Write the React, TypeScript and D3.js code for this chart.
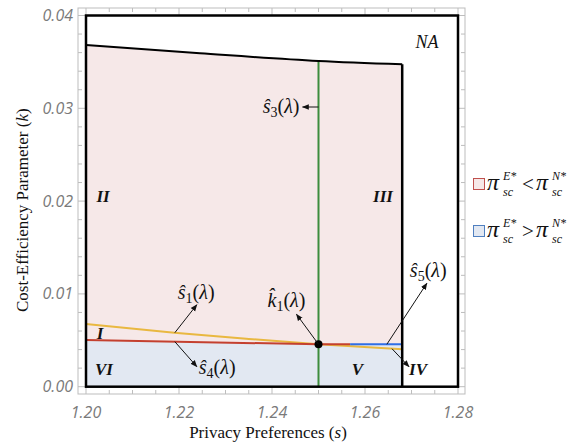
import React from 'react';
import * as d3 from 'd3';

// ---------- data ----------
const sTickValues = [1.2, 1.22, 1.24, 1.26, 1.28];
const sTickLabels = ['1.20', '1.22', '1.24', '1.26', '1.28'];
const kTickValues = [0, 0.01, 0.02, 0.03, 0.04];
const kTickLabels = ['0.00', '0.01', '0.02', '0.03', '0.04'];

// upper boundary of feasible region
const upperBoundS = [1.2, 1.2245, 1.25, 1.268];
const upperBoundK = [0.03682, 0.03593, 0.0351, 0.03474];

// s1 (yellow)
const s1S = [1.2, 1.219, 1.235, 1.25, 1.268];
const s1K = [0.00676, 0.00582, 0.00515, 0.00457, 0.00403];

// s4 (red)
const s4S = [1.2, 1.25, 1.2568];
const s4K = [0.00503, 0.00457, 0.00457];

// s5 (blue)
const s5S = [1.2568, 1.268];
const s5K = [0.00457, 0.00457];

// s3 (green vertical)
const s3Value = 1.25;
// k1 point
const k1S = 1.25;
const k1K = 0.00457;

const regionRightS = 1.268;
const naBoxS = [1.2, 1.28];
const naBoxK = [0, 0.04];

const regionLabels = ['II', 'III', 'I', 'VI', 'V', 'IV'];
const regionLabelS = [1.20366, 1.26387, 1.20301, 1.20387, 1.25839, 1.2714];
const regionLabelK = [0.0199, 0.0199, 0.00514, 0.00127, 0.00127, 0.00127];

const legendOps = ['<', '>'];

// ---------- layout ----------
const W = 569;
const H = 446;
const frame = { left: 78, right: 465, top: 8, bottom: 394 };

const x = d3.scaleLinear().domain([1.2, 1.28]).range([86, 458]);
const y = d3.scaleLinear().domain([0, 0.04]).range([386.7, 15.5]);

const PINK = '#f6e8e8';
const BLUE_FILL = '#e2e8f2';
const YELLOW = '#e9b840';
const RED = '#c4402f';
const BLUE = '#2f6ee6';
const GREEN = '#3d8c3d';
const GRAY = '#bdbdbd';
const TICK_TEXT = '#7a7a7a';
const SERIF = '"Liberation Serif", "Times New Roman", serif';
const SANS = '"Open Sans", "Liberation Sans", sans-serif';

const zip = (a: number[], b: number[]) => a.map((v, i) => [v, b[i]] as [number, number]);

const lineGen = d3
  .line<[number, number]>()
  .x((d) => x(d[0]))
  .y((d) => y(d[1]));
const curveGen = d3
  .line<[number, number]>()
  .x((d) => x(d[0]))
  .y((d) => y(d[1]))
  .curve(d3.curveMonotoneX);

function interp(S: number[], K: number[], s: number) {
  return d3.scaleLinear().domain(S).range(K)(s);
}

function Label({ x0, y0, main, sub, anchor = 'start' }: any) {
  return (
    <text x={x0} y={y0} fontFamily={SERIF} fontSize={20} textAnchor={anchor} fill="#111">
      <tspan fontStyle="italic">{main}</tspan>
      <tspan fontSize={14} dy={4}>{sub}</tspan>
      <tspan dy={-4}>(</tspan>
      <tspan fontStyle="italic">λ</tspan>
      <tspan>)</tspan>
    </text>
  );
}

function Arrow({ x1, y1, x2, y2 }: any) {
  return <line x1={x1} y1={y1} x2={x2} y2={y2} stroke="#111" strokeWidth={1} markerEnd="url(#ah)" />;
}

export default function App() {
  const upper = zip(upperBoundS, upperBoundK);
  const boundary = [...zip(s4S, s4K), [regionRightS, s5K[s5K.length - 1]] as [number, number]];

  const pinkPath =
    lineGen(boundary)! +
    'L' +
    curveGen(upper.slice().reverse() as any)!.slice(1) +
    'Z';
  const bluePts: [number, number][] = [[1.2, 0], [regionRightS, 0], ...boundary.slice().reverse()];

  const minorS = d3.range(0, 17).map((i) => 1.2 + i * 0.005);
  const minorK = d3.range(0, 21).map((i) => i * 0.002);

  // annotation anchors
  const s3a = { x: x(s3Value), y: y(0.03014) };
  const s1a = { x: x(1.2191), y: y(interp(s1S, s1K, 1.2191)) };
  const s4a = { x: x(1.2191), y: y(interp(s4S.slice(0, 2), s4K.slice(0, 2), 1.2191)) };
  const k1a = { x: x(k1S), y: y(k1K) };
  const s5a = { x: x(1.2647), y: y(s5K[0]) };
  const iva = { x: x(1.2658), y: y(interp(s1S, s1K, 1.2658)) };

  return (
    <div style={{ position: 'absolute', left: 0, top: 0 }}>
      <svg width={W} height={H} style={{ display: 'block', background: '#fff' }}>
        <defs>
          <marker id="ah" viewBox="0 0 10 10" refX="9" refY="5" markerWidth="7" markerHeight="7" orient="auto" markerUnits="userSpaceOnUse">
            <path d="M0,1 L10,5 L0,9 Z" fill="#111" />
          </marker>
        </defs>

        {/* fills */}
        <path d={pinkPath} fill={PINK} />
        <path d={lineGen(bluePts)! + 'Z'} fill={BLUE_FILL} />

        {/* frame */}
        <rect x={frame.left} y={frame.top} width={frame.right - frame.left} height={frame.bottom - frame.top} fill="none" stroke={GRAY} strokeWidth={1} />
        {minorS.map((s, i) => {
          const major = i % 4 === 0;
          const len = major ? 7 : 4;
          return (
            <g key={'sx' + i}>
              <line x1={x(s)} x2={x(s)} y1={frame.bottom} y2={frame.bottom - len} stroke={GRAY} />
              <line x1={x(s)} x2={x(s)} y1={frame.top} y2={frame.top + len} stroke={GRAY} />
            </g>
          );
        })}
        {minorK.map((k, i) => {
          const major = i % 5 === 0;
          const len = major ? 7 : 4;
          return (
            <g key={'ky' + i}>
              <line y1={y(k)} y2={y(k)} x1={frame.left} x2={frame.left + len} stroke={GRAY} />
              <line y1={y(k)} y2={y(k)} x1={frame.right} x2={frame.right - len} stroke={GRAY} />
            </g>
          );
        })}
        {sTickValues.map((s, i) => (
          <text key={'st' + i} x={x(s)} y={418} textAnchor="middle" fontFamily={SANS} fontStyle="italic" fontSize={16} fill={TICK_TEXT}>
            {sTickLabels[i]}
          </text>
        ))}
        {kTickValues.map((k, i) => (
          <text key={'kt' + i} x={73} y={y(k) + 5.5} textAnchor="end" fontFamily={SANS} fontStyle="italic" fontSize={16} fill={TICK_TEXT}>
            {kTickLabels[i]}
          </text>
        ))}

        {/* curves */}
        <path d={curveGen(zip(s1S, s1K))!} fill="none" stroke={YELLOW} strokeWidth={2} />
        <path d={lineGen(zip(s4S, s4K))!} fill="none" stroke={RED} strokeWidth={2} />
        <path d={lineGen(zip(s5S, s5K))!} fill="none" stroke={BLUE} strokeWidth={2} />
        <line x1={x(s3Value)} x2={x(s3Value)} y1={y(0)} y2={y(interp(upperBoundS, upperBoundK, s3Value))} stroke={GREEN} strokeWidth={2} />

        {/* black boundaries */}
        <rect x={x(naBoxS[0])} y={y(naBoxK[1])} width={x(naBoxS[1]) - x(naBoxS[0])} height={y(naBoxK[0]) - y(naBoxK[1])} fill="none" stroke="#000" strokeWidth={2.5} />
        <path d={curveGen(upper)!} fill="none" stroke="#000" strokeWidth={2} />
        <line x1={x(regionRightS)} x2={x(regionRightS)} y1={y(0)} y2={y(upperBoundK[upperBoundK.length - 1])} stroke="#000" strokeWidth={2.5} />

        <circle cx={x(k1S)} cy={y(k1K)} r={4} fill="#000" />

        {/* annotations */}
        <Arrow x1={s3a.x} y1={s3a.y} x2={s3a.x - 16} y2={s3a.y} />
        <Label x0={s3a.x - 19} y0={s3a.y + 6} main="ŝ" sub="3" anchor="end" />

        <Arrow x1={s1a.x} y1={s1a.y} x2={s1a.x + 22} y2={s1a.y - 28} />
        <Label x0={s1a.x + 3} y0={s1a.y - 34} main="ŝ" sub="1" />

        <Arrow x1={s4a.x} y1={s4a.y} x2={s4a.x + 22} y2={s4a.y + 25} />
        <Label x0={s4a.x + 24} y0={s4a.y + 32} main="ŝ" sub="4" />

        <Arrow x1={k1a.x} y1={k1a.y} x2={k1a.x - 22} y2={k1a.y - 30} />
        <Label x0={k1a.x - 51} y0={k1a.y - 37} main={'k\u0302'} sub="1" />

        <Arrow x1={s5a.x} y1={s5a.y} x2={s5a.x + 40} y2={s5a.y - 61} />
        <Label x0={s5a.x + 23} y0={s5a.y - 67} main="ŝ" sub="5" />

        <Arrow x1={iva.x} y1={iva.y} x2={iva.x + 17} y2={iva.y + 18} />

        {regionLabels.map((t, i) => (
          <text key={'rl' + i} x={x(regionLabelS[i])} y={y(regionLabelK[i])} textAnchor="middle" fontFamily={SERIF} fontStyle="italic" fontWeight="bold" fontSize={17} fill="#111">
            {t}
          </text>
        ))}
        <text x={x(1.27333)} y={y(0.0365)} textAnchor="middle" fontFamily={SERIF} fontStyle="italic" fontSize={18} fill="#111">
          NA
        </text>

        {/* axis titles */}
        <text x={268} y={438} textAnchor="middle" fontFamily={SERIF} fontSize={17} fill="#111">
          Privacy Preferences (<tspan fontStyle="italic">s</tspan>)
        </text>
        <text transform="translate(28,312) rotate(-90)" textAnchor="start" fontFamily={SERIF} fontSize={17} fill="#111">
          Cost-Efficiency Parameter (<tspan fontStyle="italic">k</tspan>)
        </text>

        {/* legend */}
        {legendOps.map((op, j) => {
          const oy = j * 47;
          return (
            <g key={'lg' + j} fontFamily={SERIF} fill="#111">
              <rect x={473.5} y={178.5 + oy} width={11} height={11} fill={j === 0 ? PINK : BLUE_FILL} stroke={j === 0 ? '#c0504d' : '#4f7fc0'} strokeWidth={1} />
              <text x={487} y={190 + oy} fontSize={24} fontStyle="italic">π</text>
              <text x={503} y={180 + oy} fontSize={12} fontStyle="italic">E*</text>
              <text x={503} y={196 + oy} fontSize={12} fontStyle="italic">sc</text>
              <text x={522} y={191 + oy} fontSize={21}>{op}</text>
              <text x={536} y={190 + oy} fontSize={24} fontStyle="italic">π</text>
              <text x={552} y={180 + oy} fontSize={12} fontStyle="italic">N*</text>
              <text x={552} y={196 + oy} fontSize={12} fontStyle="italic">sc</text>
            </g>
          );
        })}
      </svg>
    </div>
  );
}
